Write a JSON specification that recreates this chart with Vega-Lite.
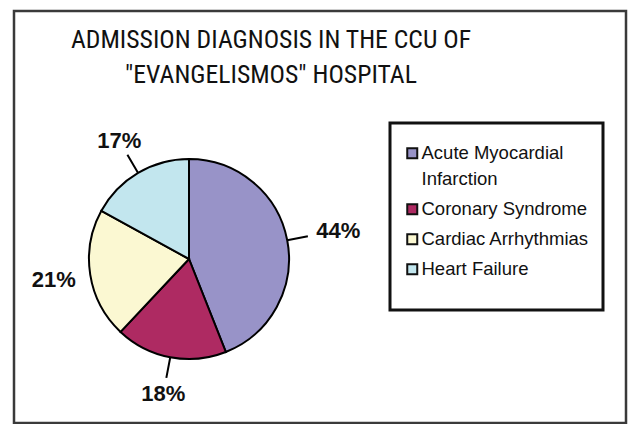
{
  "$schema": "https://vega.github.io/schema/vega-lite/v6.json",
  "width": 612,
  "height": 412,
  "autosize": {"type": "none"},
  "padding": {"left": 14, "top": 11, "right": 2, "bottom": 1},
  "background": "white",
  "view": {"stroke": "#3a3a3a", "strokeWidth": 2.5, "fill": "white"},
  "config": {
    "view": {"stroke": "#3a3a3a", "strokeWidth": 2.5},
    "font": "Liberation Sans"
  },
  "title": {
    "text": ["ADMISSION DIAGNOSIS  IN THE CCU OF", "\"EVANGELISMOS\"  HOSPITAL"],
    "font": "'Roboto Condensed', 'DejaVu Sans Condensed', Roboto, 'Liberation Sans'",
    "fontSize": 25.7,
    "fontWeight": "normal",
    "color": "#111111",
    "lineHeight": 35,
    "anchor": "middle",
    "frame": "group",
    "offset": -78,
    "dx": -49
  },
  "data": {
    "values": [
      {"category": "Acute Myocardial Infarction", "share": 0.44},
      {"category": "Coronary Syndrome", "share": 0.18},
      {"category": "Cardiac Arrhythmias", "share": 0.21},
      {"category": "Heart Failure", "share": 0.17}
    ]
  },
  "transform": [
    {"window": [{"op": "row_number", "as": "slice_order"}]}
  ],
  "layer": [
    {
      "mark": {"type": "arc", "x": 175, "y": 248, "outerRadius": 100, "stroke": "black", "strokeWidth": 2},
      "encoding": {
        "theta": {"field": "share", "type": "quantitative", "stack": true},
        "order": {"field": "slice_order", "type": "quantitative"},
        "color": {
          "field": "category",
          "type": "nominal",
          "sort": ["Acute Myocardial Infarction", "Coronary Syndrome", "Cardiac Arrhythmias", "Heart Failure"],
          "scale": {
            "domain": ["Acute Myocardial Infarction", "Coronary Syndrome", "Cardiac Arrhythmias", "Heart Failure"],
            "range": ["#9893C8", "#AE2A62", "#FBF8D2", "#C2E6EE"]
          },
          "legend": {
            "orient": "none",
            "legendX": 376,
            "legendY": 112,
            "title": " ",
            "titleFontSize": 8,
            "titlePadding": 0,
            "padding": 13,
            "strokeColor": "#111111",
            "fillColor": "white",
            "symbolType": "square",
            "symbolSize": 100,
            "symbolStrokeColor": "#111111",
            "symbolStrokeWidth": 2,
            "labelFont": "Liberation Sans",
            "labelFontSize": 18.5,
            "labelColor": "#111111",
            "labelLimit": 300,
            "labelOffset": 0,
            "rowPadding": 11,
            "labelExpr": "datum.label == 'Acute Myocardial Infarction' ? ['Acute Myocardial', 'Infarction'] : datum.label == 'Heart Failure' ? ['Heart Failure', ''] : datum.label",
            "encode": {
              "legend": {"update": {"strokeWidth": {"value": 3}}},
              "labels": {"update": {"lineHeight": {"signal": "datum.label == 'Heart Failure' ? 18 : 26"}}}
            }
          }
        }
      }
    },
    {
      "mark": {"type": "arc", "x": 175, "y": 248, "innerRadius": 100, "outerRadius": 121, "padAngle": 2, "fillOpacity": 0, "stroke": "black", "strokeWidth": 2},
      "encoding": {
        "theta": {"field": "share", "type": "quantitative", "stack": true},
        "order": {"field": "slice_order", "type": "quantitative"},
        "color": {
          "field": "category",
          "type": "nominal",
          "sort": ["Acute Myocardial Infarction", "Coronary Syndrome", "Cardiac Arrhythmias", "Heart Failure"]
        },
        "strokeOpacity": {
          "condition": {"test": "datum.category == 'Cardiac Arrhythmias'", "value": 0},
          "value": 1
        }
      }
    },
    {
      "mark": {"type": "text", "x": 175, "y": 248, "font": "Liberation Sans", "fontSize": 22, "fontWeight": "bold", "align": "center", "baseline": "middle"},
      "encoding": {
        "theta": {"field": "share", "type": "quantitative", "stack": true},
        "radius": {"value": {"expr": "datum.category == 'Acute Myocardial Infarction' ? 152 : 137"}},
        "order": {"field": "slice_order", "type": "quantitative"},
        "color": {
          "field": "category",
          "type": "nominal",
          "sort": ["Acute Myocardial Infarction", "Coronary Syndrome", "Cardiac Arrhythmias", "Heart Failure"]
        },
        "fill": {"value": "#111111"},
        "text": {"field": "share", "type": "quantitative", "format": ".0%"}
      }
    }
  ]
}
